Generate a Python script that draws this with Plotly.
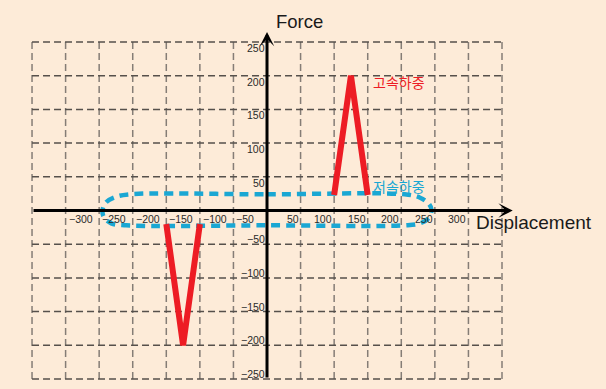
import plotly.graph_objects as go

# ---- data ----
x_ticks_neg = [-300, -250, -200, -150, -100, -50]
x_ticks_pos = [50, 100, 150, 200, 250, 300]
y_ticks_pos = [250, 200, 150, 100, 50]
y_ticks_neg = [-50, -100, -150, -200, -250]
grid_x = [-350, -300, -250, -200, -150, -100, -50, 50, 100, 150, 200, 250, 300, 350]
grid_y = [-250, -200, -150, -100, -50, 50, 100, 150, 200, 250]

high_pos_x = [100, 125, 150]
high_pos_y = [23, 200, 23]
high_neg_x = [-150, -125, -100]
high_neg_y = [-20, -200, -20]

low_x = [-205, 0, 205, 228, 241, 245, 241, 228, 205, 0, -210, -232, -243, -245, -240, -226, -205]
low_y = [24, 24, 24, 19, 10, 1, -11, -19, -22, -22, -22, -19, -10, 0, 12, 20, 24]

x_title = "Displacement"
y_title = "Force"
high_label = "고속하중"
low_label = "저속하중"

# ---- style ----
BG = "#fdebd8"
RED = "#ed1c24"
BLUE = "#1aa7d3"
GRID_H = "#56504b"
GRID_V = "#857d76"
TICK_FONT = dict(family="Liberation Sans, Arial", size=10.5, color="#2a2a2a")
X_RANGE = [-397.7, 504.9]
Y_RANGE = [-264.8, 312.3]

fig = go.Figure()

fig.add_trace(go.Scatter(x=low_x, y=low_y, mode="lines", line_shape="spline",
                         line=dict(color=BLUE, width=4.5, dash="9px,6px"),
                         hoverinfo="skip", showlegend=False))
fig.add_trace(go.Scatter(x=high_pos_x, y=high_pos_y, mode="lines",
                         line=dict(color=RED, width=6), hoverinfo="skip", showlegend=False))
fig.add_trace(go.Scatter(x=high_neg_x, y=high_neg_y, mode="lines",
                         line=dict(color=RED, width=6), hoverinfo="skip", showlegend=False))

shapes = []
gx_min, gx_max = min(grid_x), max(grid_x)
gy_min, gy_max = min(grid_y), max(grid_y)
for gx in grid_x:
    shapes.append(dict(type="line", xref="x", yref="y", x0=gx, x1=gx, y0=gy_min, y1=gy_max,
                       line=dict(color=GRID_V, width=1.5, dash="7px,4px"), layer="below"))
for gy in grid_y:
    shapes.append(dict(type="line", xref="x", yref="y", x0=gx_min, x1=gx_max, y0=gy, y1=gy,
                       line=dict(color=GRID_H, width=1.5, dash="7px,4px"), layer="below"))

ann = []
# axes with arrows
ann.append(dict(x=366, y=0, ax=gx_min, ay=0, xref="x", yref="y", axref="x", ayref="y",
                text="", showarrow=True, arrowhead=3, arrowsize=0.8, arrowwidth=3,
                arrowcolor="black", standoff=0, startstandoff=0))
ann.append(dict(x=0, y=265, ax=0, ay=gy_min, xref="x", yref="y", axref="x", ayref="y",
                text="", showarrow=True, arrowhead=3, arrowsize=0.8, arrowwidth=3,
                arrowcolor="black", standoff=0, startstandoff=0))

for v in x_ticks_neg:
    ann.append(dict(x=v, y=0, xref="x", yref="y", text=str(v).replace("-", "\u2212"),
                    showarrow=False, xanchor="left", yanchor="middle", xshift=1, yshift=-8,
                    font=TICK_FONT))
for v in x_ticks_pos:
    ann.append(dict(x=v, y=0, xref="x", yref="y", text=str(v),
                    showarrow=False, xanchor="right", yanchor="middle", xshift=0, yshift=-8,
                    font=TICK_FONT))
for v in y_ticks_pos:
    ann.append(dict(x=0, y=v, xref="x", yref="y", text=str(v),
                    showarrow=False, xanchor="right", yanchor="middle", xshift=0, yshift=-6,
                    font=TICK_FONT))
for v in y_ticks_neg:
    ann.append(dict(x=0, y=v, xref="x", yref="y", text=str(v).replace("-", "\u2212"),
                    showarrow=False, xanchor="right", yanchor="middle", xshift=0, yshift=5,
                    font=TICK_FONT))

ann.append(dict(x=10, y=280, xref="x", yref="y", text=y_title, showarrow=False,
                xanchor="left", yanchor="middle",
                font=dict(family="Liberation Sans, Arial", size=18.5, color="#1a1a1a")))
ann.append(dict(x=309, y=-18, xref="x", yref="y", text=x_title, showarrow=False,
                xanchor="left", yanchor="middle",
                font=dict(family="Liberation Sans, Arial", size=19, color="#1a1a1a")))
ann.append(dict(x=155, y=190, xref="x", yref="y", text=high_label, showarrow=False,
                xanchor="left", yanchor="middle",
                font=dict(family="Noto Sans CJK KR", size=14, color=RED)))
ann.append(dict(x=155, y=37, xref="x", yref="y", text=low_label, showarrow=False,
                xanchor="left", yanchor="middle",
                font=dict(family="Noto Sans CJK KR", size=14, color=BLUE)))

fig.update_layout(
    width=606, height=389, autosize=False,
    margin=dict(l=0, r=0, t=0, b=0),
    paper_bgcolor=BG, plot_bgcolor=BG,
    xaxis=dict(range=X_RANGE, visible=False, fixedrange=True),
    yaxis=dict(range=Y_RANGE, visible=False, fixedrange=True),
    shapes=shapes, annotations=ann, showlegend=False,
)

fig.write_html("out.html", config={"displayModeBar": False},
               post_script="document.body.style.margin='0';document.body.style.background='" + BG + "';")
